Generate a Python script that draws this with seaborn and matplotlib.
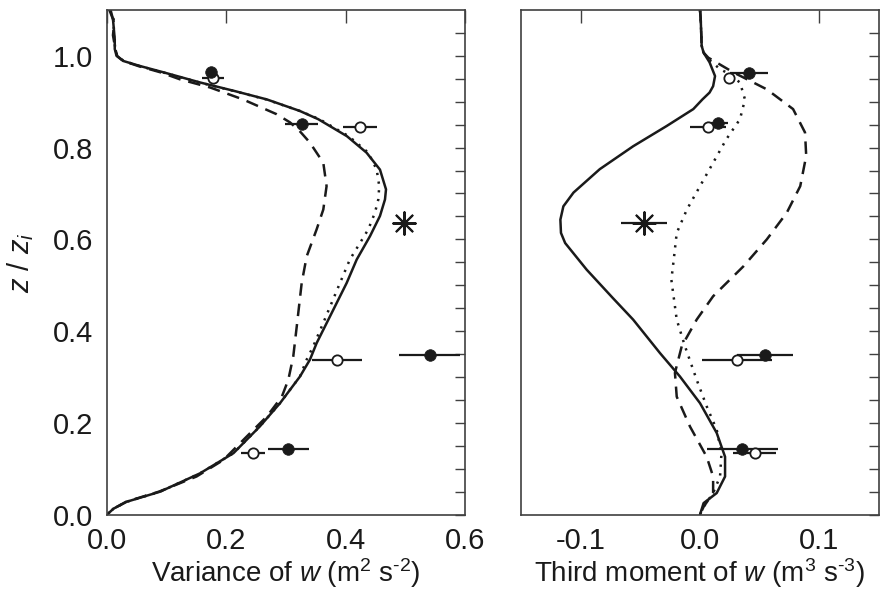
import numpy as np
import pandas as pd
import matplotlib
matplotlib.use("Agg")
import matplotlib.pyplot as plt
import seaborn as sns

sns.set_theme(style="white")
FONT = ["Liberation Sans", "DejaVu Sans"]
plt.rcParams["font.family"] = FONT
plt.rcParams["mathtext.fontset"] = "custom"
plt.rcParams["mathtext.rm"] = "Liberation Sans"
plt.rcParams["mathtext.it"] = "Liberation Sans:italic"
plt.rcParams["text.color"] = "k"
plt.rcParams["axes.labelcolor"] = "k"

# ---------------- data: variance of w ----------------
z_var_solid = [1.10, 1.08, 1.036, 1.015, 1.0, 0.989, 0.978, 0.964, 0.942, 0.924, 0.905, 0.88, 0.862,
               0.825, 0.789, 0.752, 0.709, 0.687, 0.651, 0.607, 0.556, 0.505, 0.432, 0.374, 0.338,
               0.301, 0.272, 0.243, 0.192, 0.134, 0.09, 0.05, 0.028, 0.013, 0.0]
var_solid = [0.004, 0.010, 0.013, 0.013, 0.016, 0.027, 0.055, 0.095, 0.156, 0.212, 0.268, 0.323, 0.354,
             0.402, 0.435, 0.4575, 0.4676, 0.4659, 0.4575, 0.4408, 0.4185, 0.4017, 0.3737, 0.3514, 0.3402,
             0.3234, 0.3067, 0.29, 0.256, 0.212, 0.156, 0.089, 0.033, 0.011, 0.0]

z_var_dot = [1.10, 1.08, 1.036, 1.015, 1.0, 0.989, 0.978, 0.964, 0.942, 0.924, 0.905, 0.88, 0.862,
             0.825, 0.789, 0.752, 0.716, 0.687, 0.658, 0.622, 0.592, 0.556, 0.505, 0.418, 0.367, 0.338,
             0.301, 0.272, 0.243, 0.192, 0.134, 0.09, 0.05, 0.028, 0.013, 0.0]
var_dot = [0.005, 0.011, 0.012, 0.014, 0.017, 0.028, 0.054, 0.094, 0.155, 0.211, 0.267, 0.323, 0.356,
           0.405, 0.438, 0.452, 0.4563, 0.4547, 0.449, 0.438, 0.424, 0.407, 0.3905, 0.3625, 0.3457, 0.3347,
           0.3234, 0.3067, 0.29, 0.256, 0.212, 0.156, 0.089, 0.033, 0.011, 0.0]

z_var_dash = [1.10, 1.07, 1.045, 1.015, 1.0, 0.989, 0.978, 0.964, 0.949, 0.931, 0.905, 0.873, 0.855,
              0.836, 0.811, 0.767, 0.716, 0.665, 0.622, 0.563, 0.505, 0.41, 0.345, 0.294, 0.257, 0.214,
              0.17, 0.119, 0.083, 0.05, 0.028, 0.013, 0.0]
var_dash = [0.006, 0.012, 0.010, 0.014, 0.017, 0.027, 0.052, 0.09, 0.122, 0.173, 0.228, 0.284, 0.3067,
            0.323, 0.340, 0.3625, 0.368, 0.3625, 0.3514, 0.3347, 0.3263, 0.318, 0.3122, 0.3039, 0.293, 0.268,
            0.234, 0.195, 0.15, 0.087, 0.032, 0.011, 0.0]

# observations (variance)
var_fill = [0.175, 0.326, 0.541, 0.304]
z_var_fill = [0.964, 0.852, 0.349, 0.143]
err_var_fill = [0.0, 0.028, 0.051, 0.034]
var_open = [0.178, 0.424, 0.385, 0.245]
z_var_open = [0.951, 0.844, 0.338, 0.134]
err_var_open = [0.018, 0.028, 0.042, 0.020]
var_star = [0.497]
z_var_star = [0.636]

# ---------------- data: third moment of w ----------------
z_m3_solid = [1.10, 1.08, 1.022, 1.007, 0.986, 0.956, 0.934, 0.92, 0.905, 0.884, 0.847, 0.803, 0.753,
              0.702, 0.672, 0.643, 0.614, 0.592, 0.534, 0.472, 0.425, 0.352, 0.301, 0.243, 0.178,
              0.126, 0.083, 0.047, 0.025, 0.0]
m3_solid = [0.0, 0.0006, 0.0014, 0.003, 0.008, 0.0126, 0.011, 0.008, 0.002, -0.0056, -0.028, -0.056,
            -0.084, -0.106, -0.1145, -0.117, -0.1165, -0.113, -0.095, -0.073, -0.056, -0.0335, -0.0168,
            0.0, 0.014, 0.021, 0.021, 0.014, 0.003, 0.0]

z_m3_dot = [1.10, 1.08, 1.022, 1.007, 0.993, 0.971, 0.964, 0.942, 0.92, 0.905, 0.862, 0.818, 0.767,
            0.716, 0.665, 0.614, 0.556, 0.512, 0.425, 0.367, 0.294, 0.236, 0.185, 0.134, 0.083,
            0.047, 0.017, 0.0]
m3_dot = [0.0, 0.0006, 0.0014, 0.003, 0.007, 0.0168, 0.022, 0.0335, 0.036, 0.0377, 0.0335, 0.022,
          0.011, 0.0, -0.011, -0.0195, -0.022, -0.024, -0.0195, -0.0126, -0.0028, 0.0056, 0.014,
          0.018, 0.0168, 0.011, 0.003, 0.0]

z_m3_dash = [1.10, 1.08, 1.022, 1.007, 0.996, 0.964, 0.927, 0.884, 0.833, 0.782, 0.716, 0.658, 0.6,
             0.541, 0.476, 0.425, 0.367, 0.309, 0.257, 0.192, 0.126, 0.083, 0.047, 0.017, 0.0]
m3_dash = [0.0, 0.0006, 0.0014, 0.003, 0.007, 0.028, 0.056, 0.078, 0.088, 0.089, 0.084, 0.0727, 0.056,
           0.0363, 0.011, -0.0028, -0.0153, -0.021, -0.0195, -0.0084, 0.0056, 0.011, 0.011, 0.003, 0.0]

m3_fill = [0.041, 0.0148, 0.0545, 0.0355]
z_m3_fill = [0.962, 0.853, 0.349, 0.143]
err_m3_fill = [0.016, 0.009, 0.0235, 0.0295]
m3_open = [0.024, 0.007, 0.031, 0.046]
z_m3_open = [0.951, 0.844, 0.338, 0.134]
err_m3_open = [0.0, 0.015, 0.0295, 0.018]
m3_star = [-0.047]
z_m3_star = [0.636]
err_m3_star = [0.019]

# ---------------- figure ----------------
W, H = 883, 596
fig = plt.figure(figsize=(W / 100, H / 100), dpi=100)
bot = (H - 514.6) / H
hgt = (514.6 - 10) / H
ax1 = fig.add_axes([107 / W, bot, 358 / W, hgt])
ax2 = fig.add_axes([521 / W, bot, 358 / W, hgt])

LW = 1.8
DASH = (0, (5.0, 3.2))
DOT = (0, (0.9, 2.6))
SC = "#404040"
FS = 21


def draw(ax, xs, zs, xd, zd, xt, zt):
    sns.lineplot(x=xs, y=zs, sort=False, estimator=None, color="k", lw=LW, ax=ax)
    sns.lineplot(x=xt, y=zt, sort=False, estimator=None, color="k", lw=LW, linestyle=DOT, ax=ax)
    sns.lineplot(x=xd, y=zd, sort=False, estimator=None, color="k", lw=LW, linestyle=DASH, ax=ax)


def obs(ax, xf, zf, ef, xo, zo, eo, xs, zs, es=None):
    ax.errorbar(xf, zf, xerr=ef, fmt="none", ecolor="k", elinewidth=1.6, capsize=0, zorder=4)
    ax.errorbar(xo, zo, xerr=eo, fmt="none", ecolor="k", elinewidth=1.6, capsize=0, zorder=4)
    if es is not None:
        ax.errorbar(xs, zs, xerr=es, fmt="none", ecolor="k", elinewidth=1.6, capsize=0, zorder=4)
    sns.scatterplot(x=xo, y=zo, marker="o", s=55, facecolor="white", edgecolor="k",
                    linewidth=1.3, ax=ax, zorder=5)
    sns.scatterplot(x=xf, y=zf, marker="o", s=70, color="k", edgecolor="k", linewidth=0.5,
                    ax=ax, zorder=6)
    sns.scatterplot(x=xs, y=zs, marker=(8, 2, 0), s=260, color="k", linewidth=1.5, ax=ax, zorder=6)


draw(ax1, var_solid, z_var_solid, var_dash, z_var_dash, var_dot, z_var_dot)
obs(ax1, var_fill, z_var_fill, err_var_fill, var_open, z_var_open, err_var_open, var_star, z_var_star)
draw(ax2, m3_solid, z_m3_solid, m3_dash, z_m3_dash, m3_dot, z_m3_dot)
obs(ax2, m3_fill, z_m3_fill, err_m3_fill, m3_open, z_m3_open, err_m3_open, m3_star, z_m3_star,
    err_m3_star)

ax1.set_xlim(0, 0.6)
ax2.set_xlim(-0.15, 0.15)
for ax in (ax1, ax2):
    ax.set_ylim(0, 1.1)
    ax.set_yticks([0.0, 0.2, 0.4, 0.6, 0.8, 1.0])
    ax.set_yticks(np.arange(0, 1.1, 0.05), minor=True)
    ax.tick_params(axis="both", which="both", direction="in", top=True, right=True,
                   color=SC, width=1.0, labelsize=FS, labelcolor="k")
    ax.tick_params(axis="y", which="both", length=7, pad=10)
    ax.tick_params(axis="x", which="major", length=9, pad=9)
    for sp in ax.spines.values():
        sp.set_color(SC)
        sp.set_linewidth(1.2)
    ax.grid(False)

ax1.set_xticks([0.0, 0.2, 0.4, 0.6])
ax1.set_xticklabels(["0.0", "0.2", "0.4", "0.6"])
ax1.set_yticklabels(["0.0", "0.2", "0.4", "0.6", "0.8", "1.0"])
ax2.set_xticks([-0.1, 0.0, 0.1])
ax2.set_xticklabels(["-0.1", "0.0", "0.1"])
ax2.set_yticklabels([])

ax1.set_xlabel(r"Variance of $w$ (m$^2$ s$^{\text{-}2}$)", fontsize=20, labelpad=1)
ax2.set_xlabel(r"Third moment of $w$ (m$^3$ s$^{\text{-}3}$)", fontsize=20, labelpad=1)
ax1.set_ylabel(r"$z$ / $z_i$", fontsize=FS, labelpad=12)
ax2.set_ylabel("")

fig.savefig("out.png", dpi=100)
